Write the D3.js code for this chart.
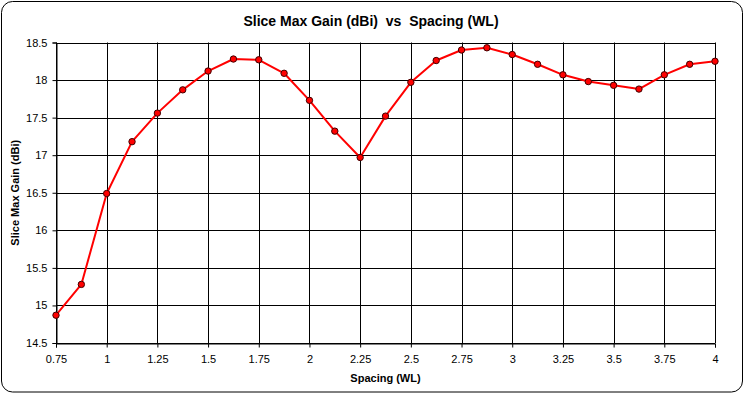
<!DOCTYPE html>
<html><head><meta charset="utf-8">
<script src="https://cdn.jsdelivr.net/npm/d3@7"></script>
<style>body{margin:0;background:#fff}svg{display:block}text{font-family:"Liberation Sans",Arial,sans-serif}</style>
</head><body>
<script>
const spacing = [0.75,0.875,1,1.125,1.25,1.375,1.5,1.625,1.75,1.875,2,2.125,2.25,2.375,2.5,2.625,2.75,2.875,3,3.125,3.25,3.375,3.5,3.625,3.75,3.875,4];
const gain = [14.87,15.28,16.49,17.18,17.56,17.87,18.12,18.28,18.27,18.09,17.73,17.32,16.97,17.52,17.97,18.26,18.40,18.43,18.34,18.21,18.07,17.98,17.93,17.88,18.07,18.21,18.25];
const xTicks = [0.75,1,1.25,1.5,1.75,2,2.25,2.5,2.75,3,3.25,3.5,3.75,4];
const yTicks = [14.5,15,15.5,16,16.5,17,17.5,18,18.5];
const title = "Slice Max Gain (dBi)  vs  Spacing (WL)";
const xTitle = "Spacing (WL)";
const yTitle = "Slice Max Gain (dBi)";

const W=744,H=394;
const L=56,R=715,T=42.5,B=343;
const svg=d3.select("body").append("svg").attr("width",W).attr("height",H);
svg.append("rect").attr("x",1.5).attr("y",1.5).attr("width",741).attr("height",390.5).attr("rx",11).attr("fill","#fff").attr("stroke","#000").attr("stroke-width",1);

const x=d3.scaleLinear().domain([0.75,4]).range([L,R]);
const y=d3.scaleLinear().domain([14.5,18.5]).range([B,T]);

const g=svg.append("g");
g.selectAll("line.v").data(xTicks).join("line").attr("x1",d=>Math.round(x(d))+0.5).attr("x2",d=>Math.round(x(d))+0.5).attr("y1",T).attr("y2",B).attr("stroke","#000");
g.selectAll("line.h").data(yTicks).join("line").attr("y1",d=>Math.round(y(d))+0.5).attr("y2",d=>Math.round(y(d))+0.5).attr("x1",L).attr("x2",R).attr("stroke","#000");

const xa=svg.append("g").attr("transform",`translate(0,${Math.round(B)+0.5})`)
  .call(d3.axisBottom(x).tickValues(xTicks).tickSize(4).tickPadding(8).tickFormat(d=>d3.format("")(d)));
const ya=svg.append("g").attr("transform",`translate(${L+0.5},0)`)
  .call(d3.axisLeft(y).tickValues(yTicks).tickSize(4).tickPadding(5).tickFormat(d=>d3.format("")(d)));
[xa,ya].forEach(a=>{a.select(".domain").attr("stroke","#000");a.selectAll(".tick line").attr("stroke","#000");a.selectAll("text").attr("font-size",11).attr("font-family","'Liberation Sans',Arial,sans-serif").attr("fill","#000");});

const line=d3.line().x((d,i)=>x(spacing[i])).y(d=>y(d)).curve(d3.curveLinear);
svg.append("path").datum(gain).attr("d",line).attr("fill","none").attr("stroke","#ff0000").attr("stroke-width",2).attr("stroke-linejoin","round");
svg.selectAll("circle.m").data(gain).join("circle").attr("cx",(d,i)=>x(spacing[i])).attr("cy",d=>y(d)).attr("r",3.2).attr("fill","#ff0000").attr("stroke","#400000").attr("stroke-width",1);

svg.append("text").attr("x",371).attr("y",26).attr("text-anchor","middle").attr("font-size",14).attr("font-weight","bold").style("white-space","pre").text(title);
svg.append("text").attr("x",(L+R)/2).attr("y",382).attr("text-anchor","middle").attr("font-size",11).attr("font-weight","bold").text(xTitle);
svg.append("text").attr("transform",`translate(19,${(T+B)/2}) rotate(-90)`).attr("text-anchor","middle").attr("font-size",11).attr("font-weight","bold").text(yTitle);
</script>
</body></html>
